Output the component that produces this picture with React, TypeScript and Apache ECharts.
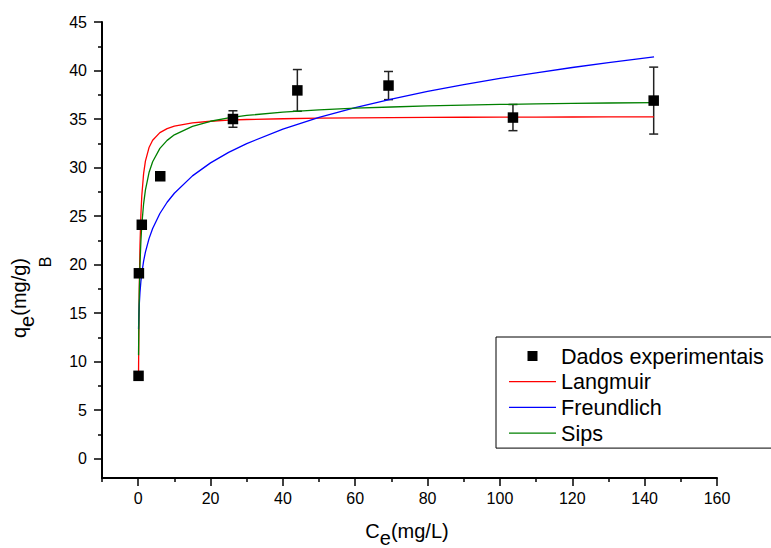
import React, { useEffect, useRef } from "react";
import * as echarts from "echarts";

// Experimental data
const EXP_C = [0.1, 0.2, 1.0, 6.1, 26.2, 44.0, 69.2, 103.6, 142.5];
const EXP_Q = [8.53, 19.1, 24.1, 29.1, 35.0, 37.95, 38.45, 35.15, 36.9];
const EXP_ERR = [0, 0, 0, 0, 0.85, 2.15, 1.45, 1.35, 3.45];

// Model curves
const CURVE_C = [0.1, 0.2, 0.3, 0.5, 0.75, 1, 1.5, 2, 3, 4, 6, 8, 10, 15, 20, 25, 30, 40, 50, 60, 70, 80, 90, 100, 110, 120, 130, 142.6];
const LANGMUIR_Q = [8.76, 14.03, 17.56, 21.98, 25.14, 27.09, 29.37, 30.66, 32.06, 32.81, 33.6, 34.01, 34.26, 34.6, 34.77, 34.88, 34.95, 35.03, 35.09, 35.12, 35.15, 35.17, 35.18, 35.19, 35.2, 35.21, 35.22, 35.23];
const FREUNDLICH_Q = [13.33, 14.86, 15.83, 17.14, 18.26, 19.1, 20.35, 21.28, 22.67, 23.71, 25.26, 26.42, 27.35, 29.14, 30.48, 31.56, 32.47, 33.96, 35.17, 36.18, 37.06, 37.84, 38.54, 39.18, 39.76, 40.31, 40.81, 41.41];
const SIPS_Q = [10.66, 14.43, 16.85, 19.97, 22.41, 24.07, 26.26, 27.68, 29.48, 30.6, 31.97, 32.8, 33.37, 34.25, 34.77, 35.12, 35.37, 35.71, 35.95, 36.12, 36.24, 36.35, 36.43, 36.5, 36.56, 36.61, 36.65, 36.7];

const X_MAJOR = [0, 20, 40, 60, 80, 100, 120, 140, 160];
const X_MINOR = [-10, 10, 30, 50, 70, 90, 110, 130, 150];
const Y_MAJOR = [0, 5, 10, 15, 20, 25, 30, 35, 40, 45];
const Y_MINOR = [2.5, 7.5, 12.5, 17.5, 22.5, 27.5, 32.5, 37.5, 42.5];

const SERIES_NAMES = ["Dados experimentais", "Langmuir", "Freundlich", "Sips"];
const SERIES_COLORS = ["#000000", "#ff0000", "#0000ff", "#008000"];

const FONT = "'Liberation Sans', Arial, sans-serif";

export default function App() {
  const ref = useRef<HTMLDivElement>(null);
  useEffect(() => {
    if (!ref.current) return;
    const chart = echarts.init(ref.current, null, { renderer: "svg" });
    const zip = (xs: number[], ys: number[]) => xs.map((x, i) => [x, ys[i]]);
    const errData = EXP_C.map((c, i) => [c, EXP_Q[i] - EXP_ERR[i], EXP_Q[i] + EXP_ERR[i]]).filter((_, i) => EXP_ERR[i] > 0);

    const lineIcon = "path://M0,0h47v1.3H0z";
    const squareIcon = "path://M0,0h10v10H0z";

    const option: any = {
      animation: false,
      backgroundColor: "#fff",
      textStyle: { fontFamily: FONT },
      grid: { left: 102, right: 54, top: 22, bottom: 70, containLabel: false },
      xAxis: [
        {
          type: "value", min: -10, max: 160, position: "bottom",
          axisLine: { show: true, onZero: false, lineStyle: { color: "#000", width: 2 } },
          axisTick: { show: true, customValues: X_MAJOR, length: 8, lineStyle: { color: "#000", width: 1.5 } },
          axisLabel: { customValues: X_MAJOR, color: "#000", fontSize: 16, fontFamily: FONT, margin: 12 },
          splitLine: { show: false },
        },
        {
          type: "value", min: -10, max: 160, position: "bottom", offset: 0,
          axisLine: { show: false, onZero: false },
          axisTick: { show: true, customValues: X_MINOR, length: 4, lineStyle: { color: "#000", width: 1.5 } },
          axisLabel: { show: false },
          splitLine: { show: false },
        },
      ],
      yAxis: [
        {
          type: "value", min: -2, max: 45, position: "left",
          axisLine: { show: true, onZero: false, lineStyle: { color: "#000", width: 2 } },
          axisTick: { show: true, customValues: Y_MAJOR, length: 8, lineStyle: { color: "#000", width: 1.5 } },
          axisLabel: { customValues: Y_MAJOR, color: "#000", fontSize: 16, fontFamily: FONT, margin: 15 },
          splitLine: { show: false },
        },
        {
          type: "value", min: -2, max: 45, position: "left", offset: 0,
          axisLine: { show: false, onZero: false },
          axisTick: { show: true, customValues: Y_MINOR, length: 4, lineStyle: { color: "#000", width: 1.5 } },
          axisLabel: { show: false },
          splitLine: { show: false },
        },
      ],
      legend: {
        orient: "vertical",
        left: 496,
        top: 337,
        data: SERIES_NAMES.map((n, i) => ({
          name: n,
          icon: i === 0 ? squareIcon : lineIcon,
          itemStyle: { color: SERIES_COLORS[i], borderWidth: 0, opacity: 1 },
        })),
        symbolKeepAspect: true,
        borderColor: "#000",
        borderWidth: 1,
        borderRadius: 0,
        padding: [8, 30, 4, 13],
        itemWidth: 47,
        itemHeight: 10,
        itemGap: 3.7,
        textStyle: { fontSize: 21.6, color: "#000", fontFamily: FONT, lineHeight: 20 },
      },
      series: [
        {
          type: "custom",
          xAxisIndex: 0, yAxisIndex: 0,
          z: 1,
          data: errData,
          encode: { x: 0, y: [1, 2] },
          renderItem: (params: any, api: any) => {
            const x = api.value(0);
            const lo = api.coord([x, api.value(1)]);
            const hi = api.coord([x, api.value(2)]);
            const w = 4.5;
            const st = { stroke: "#222", lineWidth: 1.5 };
            return {
              type: "group",
              children: [
                { type: "line", shape: { x1: lo[0], y1: lo[1], x2: hi[0], y2: hi[1] }, style: st },
                { type: "line", shape: { x1: lo[0] - w, y1: lo[1], x2: lo[0] + w, y2: lo[1] }, style: st },
                { type: "line", shape: { x1: hi[0] - w, y1: hi[1], x2: hi[0] + w, y2: hi[1] }, style: st },
              ],
            };
          },
        },
        {
          name: "Langmuir", type: "line", xAxisIndex: 0, yAxisIndex: 0, z: 2,
          data: zip(CURVE_C, LANGMUIR_Q), symbol: "none", showSymbol: false,
          lineStyle: { color: SERIES_COLORS[1], width: 1.3 }, itemStyle: { color: SERIES_COLORS[1] },
        },
        {
          name: "Freundlich", type: "line", xAxisIndex: 0, yAxisIndex: 0, z: 2,
          data: zip(CURVE_C, FREUNDLICH_Q), symbol: "none", showSymbol: false,
          lineStyle: { color: SERIES_COLORS[2], width: 1.3 }, itemStyle: { color: SERIES_COLORS[2] },
        },
        {
          name: "Sips", type: "line", xAxisIndex: 0, yAxisIndex: 0, z: 2,
          data: zip(CURVE_C, SIPS_Q), symbol: "none", showSymbol: false,
          lineStyle: { color: SERIES_COLORS[3], width: 1.3 }, itemStyle: { color: SERIES_COLORS[3] },
        },
        {
          name: "Dados experimentais", type: "scatter", xAxisIndex: 0, yAxisIndex: 0, z: 3,
          data: zip(EXP_C, EXP_Q), symbol: "rect", symbolSize: 10.5,
          itemStyle: { color: "#000", opacity: 1 },
        },
      ],
      graphic: [
        {
          type: "text", x: 407, y: 534,
          style: {
            text: "{m|C}{s|e}{m|(mg/L)}",
            align: "center", verticalAlign: "middle",
            textAlign: "center", textVerticalAlign: "middle",
            fill: "#000",
            rich: {
              m: { fontSize: 20, fontFamily: FONT, fill: "#000", color: "#000", padding: [0, 0, 7, 0] },
              s: { fontSize: 20, fontFamily: FONT, fill: "#000", color: "#000", padding: [7, 0, 0, 0] },
            },
          },
        },
        {
          type: "text", x: 23, y: 298, rotation: Math.PI / 2,
          style: {
            text: "{m|q}{s|e}{m|(mg/g)}",
            align: "center", verticalAlign: "middle",
            textAlign: "center", textVerticalAlign: "middle",
            fill: "#000",
            rich: {
              m: { fontSize: 20, fontFamily: FONT, fill: "#000", color: "#000", padding: [0, 0, 8, 0] },
              s: { fontSize: 20, fontFamily: FONT, fill: "#000", color: "#000", padding: [8, 0, 0, 0] },
            },
          },
        },
        {
          type: "text", x: 45, y: 262, rotation: Math.PI / 2,
          style: {
            text: "B", fontSize: 16, fontFamily: FONT, fill: "#000",
            align: "center", verticalAlign: "middle",
            textAlign: "center", textVerticalAlign: "middle",
          },
        },
      ],
    };
    chart.setOption(option);
    return () => chart.dispose();
  }, []);
  return (
    <div
      ref={ref}
      style={{ position: "fixed", left: 0, top: 0, width: 771, height: 548, background: "#fff" }}
    />
  );
}
